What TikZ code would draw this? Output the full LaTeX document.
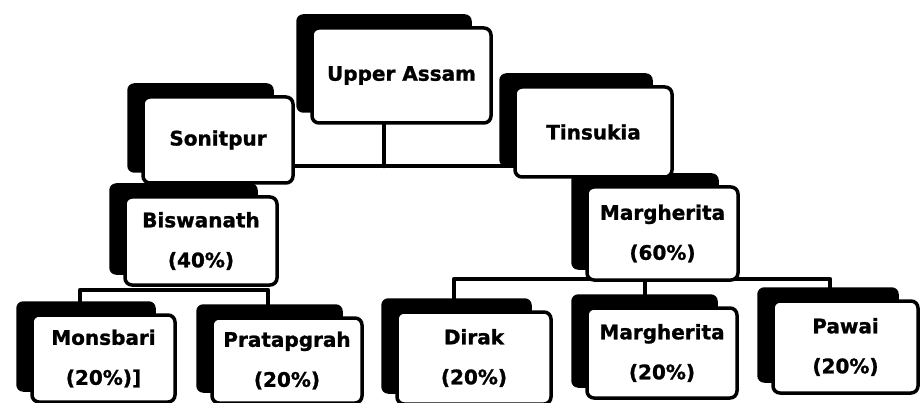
\documentclass[tikz,border=0pt]{standalone}
\usepackage{fontspec}
\setmainfont{DejaVu Sans}[BoldFeatures={FakeBold=1.2}]
\usetikzlibrary{backgrounds}
\tikzset{
  unit/.style={draw=black, line width=3.5pt, rounded corners=7pt, fill=white,
    inner sep=0pt, align=center, font=\fontsize{20}{40}\selectfont\bfseries},
  link/.style={line width=4.5pt, line cap=round, line join=round},
  backing/.style={fill=black, rounded corners=7pt},
}
% name, centre x, centre y, width, height, text
\newcommand\unitbox[6]{%
  \node[unit, minimum width=#4pt, minimum height=#5pt] (#1) at (#2,#3) {#6};}
\begin{document}
\begin{tikzpicture}[x=1pt,y=-1pt]
\useasboundingbox (0,0) rectangle (920,403);

% boxes
\unitbox{ua}{401.5}{75.5}{179}{95}{Upper Assam}
\unitbox{son}{218}{140}{150}{86}{Sonitpur}
\unitbox{tin}{593.5}{132}{157}{90}{Tinsukia}
\unitbox{bis}{201}{241}{152}{88}{Biswanath\\(40\%)}
\unitbox{mar60}{662.5}{233.5}{151}{93}{Margherita\\(60\%)}
\unitbox{mon}{103.5}{358.5}{143}{87}{Monsbari\\(20\%)]}
\unitbox{pra}{287}{360.5}{150}{85}{Pratapgrah\\(20\%)}
\unitbox{dir}{474}{358}{154}{92}{Dirak\\(20\%)}
\unitbox{mar20}{662}{353}{150}{90}{Margherita\\(20\%)}
\unitbox{paw}{845.5}{347}{145}{92}{Pawai\\(20\%)}

% junction points of the connectors
\coordinate (tj) at (384,166);
\coordinate (ll) at (80,290);
\coordinate (lr) at (268,290);
\coordinate (rl) at (454,279);
\coordinate (rm) at (645,279);
\coordinate (rr) at (830,279);

\begin{scope}[on background layer]
  % connectors
  \draw[link] (tj |- ua.south) -- (tj);
  \draw[link] (son.east |- tj) -- (tin.west |- tj);
  \draw[link] (ll |- mon.north) -- (ll) -- (lr) -- (lr |- pra.north);
  \draw[link] (rl |- dir.north) -- (rl) -- (rr) -- (rr |- paw.north);
  \draw[link] (rm) -- (rm |- mar20.north);
  % offset black backings of the boxes
  \foreach \n in {ua,son,tin,bis,mar60,mon,pra,dir,mar20,paw}
    \fill[backing] ([xshift=-14pt,yshift=12pt]\n.north west)
      rectangle ([xshift=-21pt,yshift=12pt]\n.south east);
\end{scope}
\end{tikzpicture}
\end{document}
